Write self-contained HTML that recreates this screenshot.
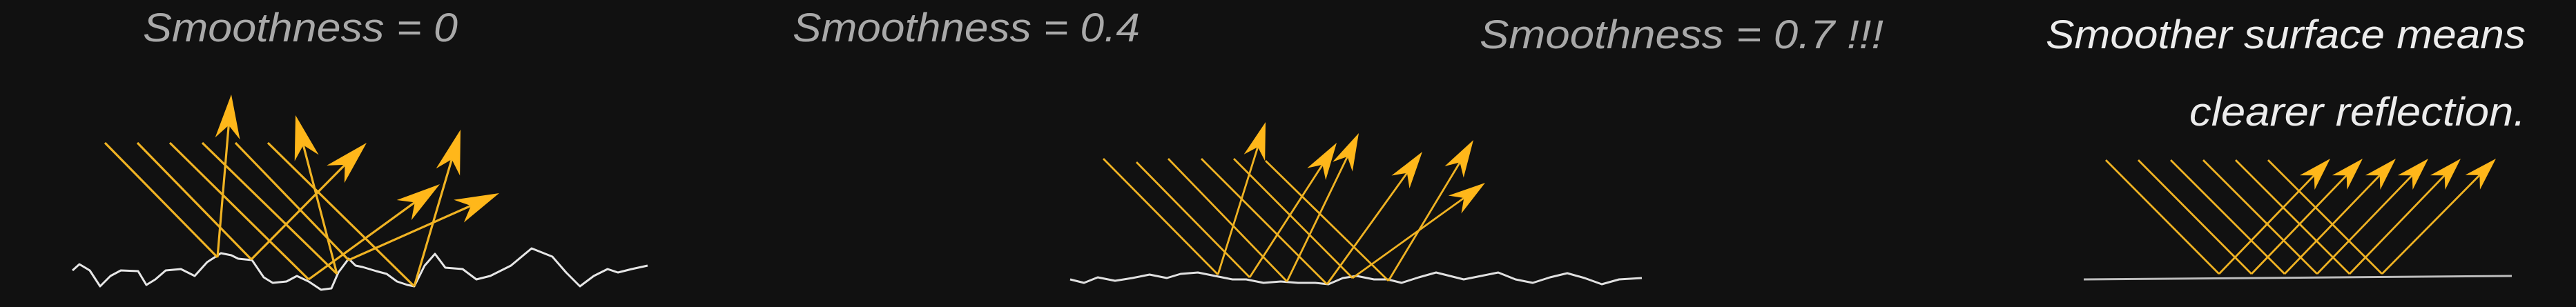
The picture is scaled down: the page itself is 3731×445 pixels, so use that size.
<!DOCTYPE html>
<html><head><meta charset="utf-8">
<style>
html,body{margin:0;padding:0;background:#111;}
svg{display:block;}
text{font-family:"Liberation Sans",sans-serif;font-style:italic;}
</style></head>
<body>
<svg id="chart" width="3731" height="445" viewBox="0 0 3731 445" xmlns="http://www.w3.org/2000/svg">
<rect x="0" y="0" width="3731" height="445" fill="#111111"/>
<text x="207" y="60" font-size="58" fill="#a9a9a9" textLength="456" lengthAdjust="spacingAndGlyphs">Smoothness = 0</text>
<text x="1148" y="60" font-size="58" fill="#a9a9a9" textLength="503" lengthAdjust="spacingAndGlyphs">Smoothness = 0.4</text>
<text x="2143" y="70" font-size="58" fill="#a9a9a9" textLength="585" lengthAdjust="spacingAndGlyphs">Smoothness = 0.7 !!!</text>
<text x="2963" y="70" font-size="58" fill="#ececec" textLength="695" lengthAdjust="spacingAndGlyphs">Smoother surface means</text>
<text x="3171" y="182" font-size="58" fill="#ececec" textLength="487" lengthAdjust="spacingAndGlyphs">clearer reflection.</text>
<g id="marks"></g>
</svg>
<script>
// Panel 1 (smoothness 0)
const p1Starts = [[152,207],[199,207],[246,207],[293,207],[341,207],[388,207]];
const p1Bounces = [[315,373],[364,376],[447,405],[488,397],[505,377],[600,415]];
const p1Tips = [[335,137],[531,207],[637,267],[428,167],[723,280],[667,188]];
const p1Surface = [[105,392],[115,383],[130,392],[145,415],[160,400],[175,392],[200,393],[212,413],[225,405],[240,392],[262,390],[282,400],[300,380],[320,367],[335,370],[345,375],[365,377],[382,402],[395,410],[415,408],[430,400],[447,408],[465,420],[480,418],[490,395],[505,375],[515,385],[525,387],[545,393],[560,397],[575,408],[590,413],[600,415],[615,385],[630,368],[645,388],[670,390],[690,405],[710,400],[740,385],[770,360],[800,372],[820,395],[840,415],[860,400],[880,390],[895,395],[915,390],[938,385]];
// Panel 2 (smoothness 0.4)
const p2Starts = [[1598,230],[1646,235],[1692,230],[1740,230],[1787,230],[1833,233]];
const p2Bounces = [[1764,398],[1810,402],[1864,408],[1922,412],[1959,403],[2011,407]];
const p2Tips = [[1833,177],[1936,207],[1968,193],[2060,220],[2151,265],[2134,203]];
const p2Surface = [[1550,405],[1570,410],[1590,402],[1615,407],[1640,403],[1665,398],[1690,403],[1710,397],[1735,395],[1760,400],[1785,405],[1805,405],[1830,410],[1855,408],[1880,410],[1905,410],[1924,412],[1945,403],[1965,400],[1990,405],[2010,405],[2030,410],[2055,402],[2080,395],[2100,400],[2120,405],[2145,400],[2170,395],[2195,405],[2220,410],[2245,402],[2270,396],[2295,403],[2320,412],[2345,405],[2378,403]];
// Panel 3 (clear reflection)
const p3Starts = [[3050,232],[3097,232],[3144,232],[3191,232],[3238,232],[3285,232]];
const p3Bounces = [[3214,397],[3261,397],[3309,397],[3356,397],[3403,397],[3450,397]];
const p3Tips = [[3375,230],[3422,230],[3470,230],[3517,230],[3564,230],[3615,230]];
const p3Surface = [[3018,405],[3638,400]];

const NS = "http://www.w3.org/2000/svg";
const g = document.getElementById('marks');
const RAY = "#f0b323", HEAD = "#ffb71a";
function line(a,b,w,name){
  const l=document.createElementNS(NS,'line');
  l.setAttribute('x1',a[0]);l.setAttribute('y1',a[1]);l.setAttribute('x2',b[0]);l.setAttribute('y2',b[1]);
  l.setAttribute('stroke',RAY);l.setAttribute('stroke-width',w);
  
  
  g.appendChild(l);
}
function head(b,t,len,wid,name){
  const dx=t[0]-b[0],dy=t[1]-b[1],d=Math.hypot(dx,dy),ux=dx/d,uy=dy/d,px=-uy,py=ux;
  const bx=t[0]-ux*len,by=t[1]-uy*len, nx=t[0]-ux*len*0.7, ny=t[1]-uy*len*0.7;
  const p=document.createElementNS(NS,'polygon');
  p.setAttribute('points',`${t[0]},${t[1]} ${bx+px*wid/2},${by+py*wid/2} ${nx},${ny} ${bx-px*wid/2},${by-py*wid/2}`);
  p.setAttribute('fill',HEAD);
  
  
  g.appendChild(p);
}
function surface(pts,color,w,name){
  const pl=document.createElementNS(NS,'polyline');
  pl.setAttribute('points',pts.map(p=>p.join(',')).join(' '));
  pl.setAttribute('fill','none');pl.setAttribute('stroke',color);pl.setAttribute('stroke-width',w);pl.setAttribute('stroke-linejoin','round');
  
  
  g.appendChild(pl);
}
function panel(starts,bounces,tips,surf,sColor,rw,hl,hw,prefix){
  surface(surf,sColor,3,prefix+'-surface');
  for(let i=0;i<starts.length;i++){
    line(starts[i],bounces[i],rw,prefix+'-incident-ray');
    const t=tips[i],b=bounces[i];
    const dx=t[0]-b[0],dy=t[1]-b[1],d=Math.hypot(dx,dy);
    line(b,[t[0]-dx/d*hl*0.6,t[1]-dy/d*hl*0.6],rw,prefix+'-reflected-ray');
    head(b,t,hl,hw,prefix+'-arrowhead');
  }
}
panel(p1Starts,p1Bounces,p1Tips,p1Surface,"#e6e6e6",3.2,64,36,'rough');
panel(p2Starts,p2Bounces,p2Tips,p2Surface,"#e0e0e0",2.8,54,32,'medium');
panel(p3Starts,p3Bounces,p3Tips,p3Surface,"#bdbdbd",2.8,48,30,'smooth');
</script>
</body></html>
